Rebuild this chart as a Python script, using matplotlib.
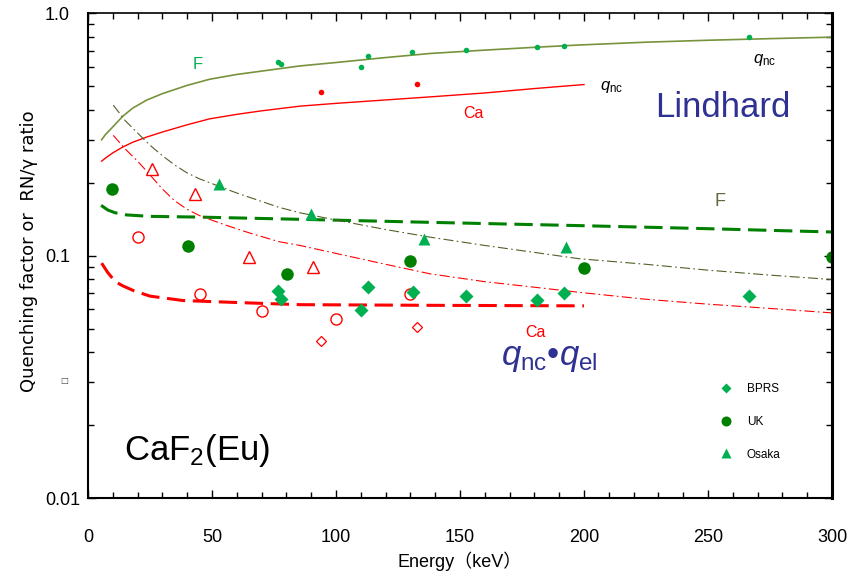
import matplotlib
matplotlib.use('Agg')
import matplotlib.pyplot as plt
from matplotlib.ticker import MultipleLocator, FixedLocator, FixedFormatter, LogLocator, NullFormatter

plt.rcParams['font.family'] = ['Liberation Sans', 'Noto Sans CJK JP', 'DejaVu Sans']
plt.rcParams['mathtext.fontset'] = 'custom'
plt.rcParams['mathtext.rm'] = 'Liberation Sans'
plt.rcParams['mathtext.it'] = 'Liberation Sans:italic'

# Lindhard q_nc curves
lindF_E = [5.5, 7, 10, 14, 18, 23.6, 30, 40, 49, 60, 70, 85.5, 100, 120, 138, 160, 180, 198, 225, 250, 275, 300]
lindF_q = [0.30, 0.315, 0.339, 0.375, 0.405, 0.437, 0.465, 0.503, 0.533, 0.558, 0.576, 0.605, 0.625,
           0.655, 0.681, 0.703, 0.722, 0.738, 0.758, 0.772, 0.784, 0.795]
lindCa_E = [5.5, 7, 10, 14, 18, 23.7, 30, 40, 49, 60, 70, 85.5, 100, 120, 138, 160, 180, 200]
lindCa_q = [0.245, 0.252, 0.265, 0.28, 0.293, 0.308, 0.323, 0.346, 0.366, 0.382, 0.395, 0.413, 0.424,
            0.438, 0.451, 0.468, 0.488, 0.507]

# q_nc * q_el curves
qqF_E = [5.3, 8, 11, 15.6, 25, 45, 85.5, 138, 195.6, 250, 300]
qqF_q = [0.161, 0.154, 0.150, 0.147, 0.145, 0.144, 0.141, 0.137, 0.133, 0.129, 0.125]
qqCa_E = [5.5, 8, 11, 14, 18.3, 25, 38.4, 60, 85.5, 140, 200]
qqCa_q = [0.093, 0.085, 0.078, 0.075, 0.0717, 0.068, 0.0652, 0.064, 0.0627, 0.0623, 0.062]

# dash-dot curves
ddF_E = [10.2, 15, 20, 25, 30, 35, 40, 45, 52.8, 60, 77, 85.5, 100, 120, 138, 160, 180, 198, 225, 250, 275, 300]
ddF_q = [0.417, 0.36, 0.32, 0.285, 0.258, 0.236, 0.219, 0.207, 0.193, 0.181, 0.158, 0.150, 0.140, 0.128,
         0.119, 0.110, 0.103, 0.097, 0.092, 0.087, 0.083, 0.0796]
ddCa_E = [10.2, 15, 20, 25, 30, 35, 40, 45, 55, 65, 77, 85.5, 100, 120, 138, 160, 180, 198, 225, 250, 275, 300]
ddCa_q = [0.313, 0.275, 0.245, 0.215, 0.188, 0.168, 0.155, 0.146, 0.134, 0.124, 0.114, 0.110, 0.102, 0.092,
          0.084, 0.078, 0.074, 0.0705, 0.066, 0.063, 0.0605, 0.058]

# measured points
dotF_E = [76.5, 77.7, 110, 113, 130.8, 152.3, 180.9, 191.8, 266.5]
dotF_q = [0.628, 0.618, 0.600, 0.664, 0.692, 0.703, 0.726, 0.733, 0.80]
dotCa_E = [94, 132.8]
dotCa_q = [0.473, 0.512]

bprs_E = [76.7, 77.7, 110, 113, 131, 152.3, 180.9, 191.8, 266.5]
bprs_q = [0.0712, 0.0662, 0.0597, 0.074, 0.0706, 0.0679, 0.0656, 0.0699, 0.0684]
uk_E = [9.5, 40.2, 80.1, 130, 200, 299.9]
uk_q = [0.1886, 0.109, 0.084, 0.0947, 0.089, 0.099]
osaka_E = [52.8, 89.8, 135.5, 192.6]
osaka_q = [0.1965, 0.149, 0.117, 0.108]

triCa_E = [25.7, 43.1, 65, 90.8]
triCa_q = [0.228, 0.180, 0.0984, 0.0895]
circCa_E = [20.3, 45.2, 70.3, 100, 129.8]
circCa_q = [0.119, 0.0695, 0.0593, 0.0547, 0.0695]
diaCa_E = [94, 132.8]
diaCa_q = [0.0445, 0.0506]

green = '#00B050'
dkgreen = '#008000'
olive = '#77933C'
dkolive = '#4F6228'
red = '#FF0000'
navy = '#2E3192'

fig = plt.figure(figsize=(8.55, 5.78), dpi=100)
ax = fig.add_axes([0.1029, 0.1384, 0.8702, 0.8391])

ax.plot(lindF_E, lindF_q, color=olive, lw=1.2)
ax.plot(lindCa_E, lindCa_q, color=red, lw=1.0)
ax.plot(qqF_E, qqF_q, color=dkgreen, lw=2.2, dashes=(6, 2.5))
ax.plot(qqCa_E, qqCa_q, color=red, lw=2.2, dashes=(6, 2.5))
ax.plot(ddF_E, ddF_q, color=dkolive, lw=0.8, dashes=(9, 3, 1.5, 3))
ax.plot(ddCa_E, ddCa_q, color=red, lw=0.8, dashes=(9, 3, 1.5, 3))

ax.plot(dotF_E, dotF_q, 'o', color=green, ms=4, mec='none')
ax.plot(dotCa_E, dotCa_q, 'o', color=red, ms=4, mec='none')

ax.plot(triCa_E, triCa_q, '^', mfc='white', mec=red, mew=1.0, ms=8)
ax.plot(circCa_E, circCa_q, 'o', mfc='white', mec=red, mew=1.0, ms=8)
ax.plot(diaCa_E, diaCa_q, 'D', mfc='white', mec=red, mew=0.9, ms=5)

hB, = ax.plot(bprs_E, bprs_q, 'D', color=green, ms=7, mec='none', label='BPRS')
hU, = ax.plot(uk_E, uk_q, 'o', color=dkgreen, ms=9, mec='none', label='UK')
hO, = ax.plot(osaka_E, osaka_q, '^', color=green, ms=9, mec='none', label='Osaka')

ax.set_xlim(0, 300)
ax.set_yscale('log')
ax.set_ylim(0.01, 1.0)

ax.xaxis.set_major_locator(MultipleLocator(50))
ax.xaxis.set_minor_locator(MultipleLocator(10))
ax.yaxis.set_major_locator(FixedLocator([0.01, 0.1, 1.0]))
ax.yaxis.set_major_formatter(FixedFormatter(['0.01', '0.1', '1.0']))
ax.yaxis.set_minor_locator(LogLocator(base=10, subs=range(2, 10)))
ax.yaxis.set_minor_formatter(NullFormatter())

ax.tick_params(which='both', direction='in', top=True, right=True, labelsize=13)
ax.tick_params(which='major', length=6, width=1.0)
ax.tick_params(which='minor', length=4, width=1.0)
ax.tick_params(axis='x', which='major', pad=22)
ax.tick_params(axis='y', which='major', pad=31)
plt.setp(ax.get_yticklabels(), ha='left')

for side in ['left', 'bottom']:
  ax.spines[side].set_linewidth(1.5)
ax.spines['top'].set_linewidth(1.2)
ax.spines['right'].set_linewidth(2.2)

ax.set_xlabel('Energy\uff08keV\uff09', fontsize=13, labelpad=4)
ax.set_ylabel('Quenching factor or  RN/\u03b3 ratio', fontsize=13, family='DejaVu Sans')
ax.yaxis.set_label_coords(-0.067, 0.509)

ax.text(44.4, 0.615, 'F', color=green, fontsize=12, ha='center', va='center')
ax.text(273, 0.64, r'$q_{\mathrm{nc}}$', color='black', fontsize=12, ha='center', va='center')
ax.text(211, 0.495, r'$q_{\mathrm{nc}}$', color='black', fontsize=12, ha='center', va='center')
ax.text(155.6, 0.386, 'Ca', color=red, fontsize=11.5, ha='center', va='center')
ax.text(256, 0.409, 'Lindhard', color=navy, fontsize=25, ha='center', va='center')
ax.text(254.8, 0.167, 'F', color='#5F6B3B', fontsize=13, ha='center', va='center')
ax.text(180.6, 0.048, 'Ca', color=red, fontsize=11.5, ha='center', va='center')
ax.text(186, 0.038, r'$q_{\mathrm{nc}}$' + '\u2022' + r'$q_{\mathrm{el}}$', color=navy, fontsize=25,
        ha='center', va='center')
ax.text(44, 0.0157, r'CaF$_2$(Eu)', color='black', fontsize=25, ha='center', va='center')

ax.legend(handles=[hB, hU, hO], loc='center left', bbox_to_anchor=(0.849, 0.157), frameon=False,
          fontsize=8.5, markerscale=0.8, handlelength=1.0, handletextpad=1.3, labelspacing=1.75,
          borderpad=0, borderaxespad=0)

fig.text(64 / 855, 1 - 381 / 578, '\u25a1', fontsize=6, color='#444444', ha='center', va='center',
         family='DejaVu Sans')

plt.savefig('out.png', dpi=100)
